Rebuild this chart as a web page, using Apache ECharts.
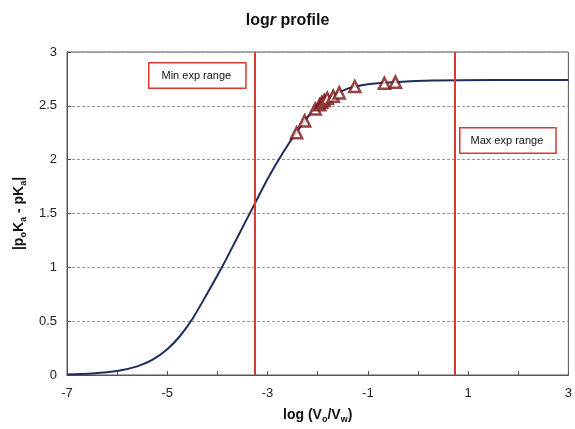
<!DOCTYPE html>
<html>
<head>
<meta charset="utf-8">
<script src="https://cdn.jsdelivr.net/npm/echarts@6/dist/echarts.min.js"></script>
<style>
  html, body { margin: 0; padding: 0; background: #fff; }
  #main { width: 575px; height: 429px; }
</style>
</head>
<body>
<div id="main"></div>
<script>
// fitted profile
var curveX = [-7, -6.5, -6, -5.6, -5.3, -5.0, -4.75, -4.5, -4.2, -3.9, -3.6, -3.3, -3.0, -2.7, -2.4, -2.1, -1.8, -1.4, -1.0, -0.45, 0.3, 1.5, 3];
var curveY = [0.005, 0.015, 0.037, 0.08, 0.14, 0.24, 0.36, 0.52, 0.76, 1.01, 1.28, 1.55, 1.82, 2.06, 2.27, 2.45, 2.57, 2.66, 2.70, 2.72, 2.735, 2.74, 2.74];

// measured points
var expX = [-2.42, -2.26, -2.05, -1.96, -1.92, -1.87, -1.81, -1.69, -1.57, -1.26, -0.67, -0.45];
var expY = [2.25, 2.36, 2.47, 2.51, 2.53, 2.55, 2.57, 2.59, 2.62, 2.68, 2.71, 2.72];

var rangeLimits = [-3.25, 0.73];
var rangeNames = ["Min exp range", "Max exp range"];

var font = "Liberation Sans, Arial, sans-serif";

function pairs(xs, ys) {
  return xs.map(function (x, i) { return [x, ys[i]]; });
}

var myChart = echarts.init(document.getElementById("main"));

myChart.setOption({
  animation: false,
  title: {
    text: "{a|log}{i|r}{a| profile}",
    left: "center",
    top: 8,
    textStyle: {
      rich: {
        a: { fontFamily: font, fontSize: 16, fontWeight: "bold", color: "#111" },
        i: { fontFamily: font, fontSize: 16, fontWeight: "bold", fontStyle: "italic", color: "#111" }
      }
    }
  },
  grid: {
    left: 67,
    right: 6,
    top: 52,
    bottom: 54,
    show: true,
    borderColor: "#555",
    borderWidth: 1
  },
  xAxis: {
    type: "value",
    min: -7,
    max: 3,
    interval: 1,
    name: "{a|log (V}{s|o}{a|/V}{s|w}{a|)}",
    nameLocation: "middle",
    nameGap: 32,
    nameTextStyle: {
      rich: {
        a: { fontFamily: font, fontSize: 14, fontWeight: "bold", color: "#111" },
        s: { fontFamily: font, fontSize: 9, fontWeight: "bold", color: "#111", verticalAlign: "bottom", padding: [8, 0, 0, 0] }
      }
    },
    axisLine: { onZero: false, lineStyle: { color: "#555", width: 1 } },
    axisTick: { inside: true, length: 4, lineStyle: { color: "#555" } },
    axisLabel: {
      fontFamily: font,
      fontSize: 13,
      color: "#222",
      margin: 12,
      formatter: function (v) { return Math.round(v) % 2 !== 0 ? String(v) : ""; }
    },
    splitLine: { show: false }
  },
  yAxis: {
    type: "value",
    min: 0,
    max: 3,
    interval: 0.5,
    name: "{a|\u007Cp}{s|o}{a|K}{s|a}{a| - pK}{s|a}{a|\u007C}",
    nameLocation: "middle",
    nameRotate: 90,
    nameGap: 32,
    nameTextStyle: {
      rich: {
        a: { fontFamily: font, fontSize: 14, fontWeight: "bold", color: "#111" },
        s: { fontFamily: font, fontSize: 9, fontWeight: "bold", color: "#111", verticalAlign: "bottom", padding: [8, 0, 0, 0] }
      }
    },
    axisLine: { show: true, onZero: false, lineStyle: { color: "#555", width: 1 } },
    axisTick: { show: true, inside: true, length: 4, lineStyle: { color: "#555" } },
    axisLabel: { fontFamily: font, fontSize: 13, color: "#222", margin: 10 },
    splitLine: { show: true, lineStyle: { color: "#999", type: [3, 2], width: 1 } }
  },
  series: [
    {
      name: "profile",
      type: "line",
      data: pairs(curveX, curveY),
      smooth: 0.3,
      showSymbol: false,
      lineStyle: { color: "#1f2d5c", width: 2 },
      z: 2,
      markLine: {
        silent: true,
        symbol: "none",
        label: { show: false },
        lineStyle: { color: "#d83a34", width: 2, type: "solid" },
        data: rangeLimits.map(function (v) { return { xAxis: v }; })
      }
    },
    {
      name: "exp",
      type: "scatter",
      data: pairs(expX, expY),
      symbol: "triangle",
      symbolSize: 11,
      itemStyle: { color: "#fff", borderColor: "#7a1414", borderWidth: 2.5 },
      z: 4
    }
  ],
  graphic: [
    {
      type: "text",
      left: 148,
      top: 62,
      style: {
        text: rangeNames[0],
        font: "11px " + font,
        fill: "#111",
        backgroundColor: "#fff",
        borderColor: "#d83a34",
        borderWidth: 1.5,
        padding: [7, 14, 6, 12]
      }
    },
    {
      type: "text",
      left: 459,
      top: 127,
      style: {
        text: rangeNames[1],
        font: "11px " + font,
        fill: "#111",
        backgroundColor: "#fff",
        borderColor: "#d83a34",
        borderWidth: 1.5,
        padding: [7, 12, 6, 10]
      }
    }
  ]
});
</script>
</body>
</html>
